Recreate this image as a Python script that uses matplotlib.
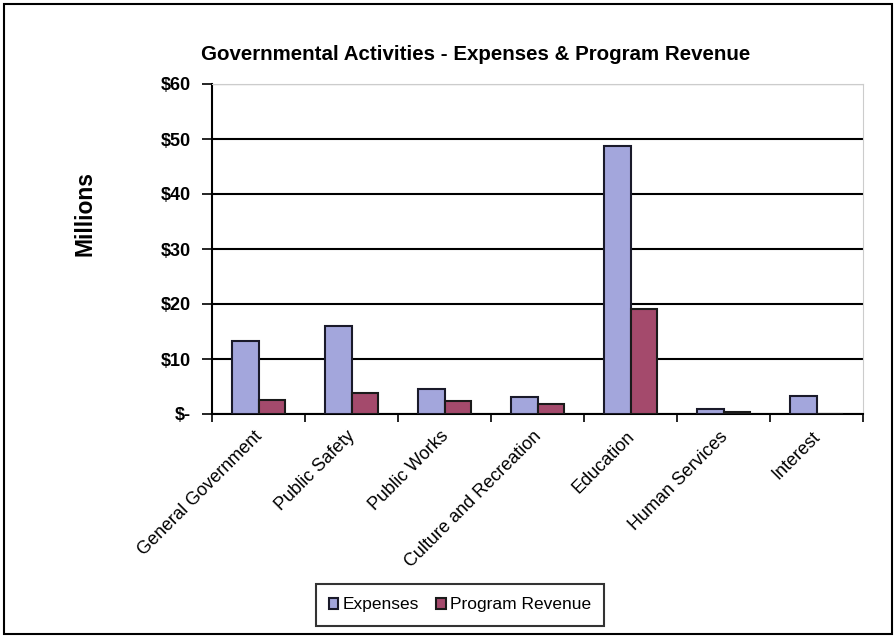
import numpy as np
import matplotlib.pyplot as plt
from matplotlib.patches import Rectangle

plt.rcParams["font.family"] = ["Liberation Sans", "DejaVu Sans"]

categories = ["General Government", "Public Safety", "Public Works",
              "Culture and Recreation", "Education", "Human Services", "Interest"]
expenses = [13.3, 16.0, 4.5, 3.1, 48.7, 1.0, 3.3]
program_revenue = [2.5, 3.8, 2.4, 1.8, 19.1, 0.3, 0.0]
y_ticks = [0, 10, 20, 30, 40, 50, 60]
y_labels = ["$-", "$10", "$20", "$30", "$40", "$50", "$60"]

exp_color = "#a3a6dc"
rev_color = "#a44a6c"

fig = plt.figure(figsize=(8.96, 6.37), dpi=100)
fig.patches.append(Rectangle((0.004, 0.004), 0.992, 0.99, transform=fig.transFigure,
                             fill=False, edgecolor="black", linewidth=1.5))

ax = fig.add_axes([212 / 896, 1 - 414 / 637, 651 / 896, 330 / 637])
x = np.arange(len(categories))
w = 0.29
ax.bar(x - w / 2, expenses, w, color=exp_color, edgecolor="#1a1a2a", linewidth=1.5,
       label="Expenses", zorder=3)
ax.bar(x + w / 2, program_revenue, w, color=rev_color, edgecolor="#1a1a1a", linewidth=1.5,
       label="Program Revenue", zorder=3)

ax.set_xlim(-0.5, len(categories) - 0.5)
ax.set_ylim(0, 60)
ax.set_yticks(y_ticks)
ax.set_yticklabels(y_labels, fontsize=13, fontweight="bold")
ax.yaxis.grid(True, color="black", linewidth=1.5, zorder=0)
ax.set_axisbelow(True)

# category boundaries get the tick marks, labels sit at the centres
ax.set_xticks(np.arange(len(categories) + 1) - 0.5, minor=False)
ax.set_xticklabels([])
ax.set_xticks(x - 0.05, minor=True)
ax.set_xticklabels(categories, minor=True, rotation=45, ha="right",
                   rotation_mode="anchor", fontsize=13)
ax.tick_params(axis="x", which="minor", length=0, pad=10)
ax.tick_params(axis="x", which="major", length=6, width=1.2, direction="out")
ax.tick_params(axis="y", length=7, width=1.2, direction="out", pad=8)

for s in ["top", "right"]:
    ax.spines[s].set_color("#cccccc")
ax.spines["left"].set_linewidth(1.5)
ax.spines["bottom"].set_linewidth(1.5)

fig.text(85 / 896, 1 - 213 / 637, "Millions", rotation=90, ha="center", va="center",
         fontsize=16.5, fontweight="bold")
fig.text(476 / 896, 1 - 55 / 637, "Governmental Activities - Expenses & Program Revenue",
         ha="center", va="center", fontsize=14.8, fontweight="bold")

leg = fig.legend(loc="center", bbox_to_anchor=(460 / 896, 1 - 605 / 637), ncol=2,
                 fontsize=12.5, frameon=True, fancybox=False, edgecolor="black",
                 handlelength=0.55, handleheight=0.55, handletextpad=0.25,
                 columnspacing=1.0, borderpad=0.75)
leg.get_frame().set_linewidth(1.5)
leg.get_frame().set_boxstyle("square", pad=0)

fig.savefig("out.png", dpi=100)
